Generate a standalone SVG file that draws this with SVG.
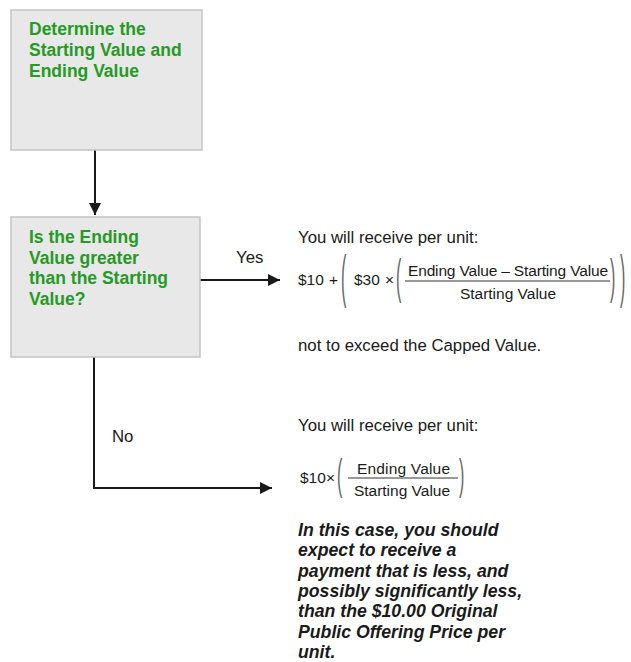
<svg xmlns="http://www.w3.org/2000/svg" width="631" height="662" viewBox="0 0 631 662">
<style>
.box{fill:#e8e8e8;stroke:#c4c4c4;stroke-width:1.5}
.g{font-family:"Liberation Sans",Arial,sans-serif;font-weight:bold;font-size:17.5px;fill:#259a25}
.t{font-family:"Liberation Sans",Arial,sans-serif;font-size:16.8px;fill:#1a1a1a}
.f{font-family:"Liberation Sans",Arial,sans-serif;font-size:15.5px;fill:#1a1a1a}
.p{font-family:"Liberation Sans",Arial,sans-serif;font-size:16px;fill:#666}
.i{font-family:"Liberation Sans",Arial,sans-serif;font-size:17.7px;font-weight:bold;font-style:italic;fill:#1a1a1a}
.c{fill:none;stroke:#1a1a1a;stroke-width:2}
.bar{stroke:#333;stroke-width:1}
</style>
<defs>
<marker id="ah" viewBox="0 0 12 12" refX="12" refY="6" markerWidth="12" markerHeight="12" markerUnits="userSpaceOnUse" orient="auto">
<path d="M0,0 L12,6 L0,12 z" fill="#1a1a1a"/>
</marker>
</defs>
<g id="connectors">
<path class="c" d="M95,150 V215" marker-end="url(#ah)"/>
<path class="c" d="M200,280 H280" marker-end="url(#ah)"/>
<path class="c" d="M94,357 V488 H272" marker-end="url(#ah)"/>
<text class="t" x="236" y="263">Yes</text>
<text class="t" x="112" y="442">No</text>
</g>
<g id="node-determine">
<rect class="box" x="11" y="10" width="191" height="140"/>
<text class="g" x="29" y="35">Determine the</text>
<text class="g" x="29" y="56">Starting Value and</text>
<text class="g" x="29" y="77">Ending Value</text>
</g>
<g id="node-question">
<rect class="box" x="11" y="217" width="189" height="140"/>
<text class="g" x="29" y="243">Is the Ending</text>
<text class="g" x="29" y="263.5">Value greater</text>
<text class="g" x="29" y="284">than the Starting</text>
<text class="g" x="29" y="304.5">Value?</text>
</g>
<g id="node-yes">
<text class="t" x="298" y="243">You will receive per unit:</text>
<text class="f" x="298" y="285">$10</text>
<text class="f" x="329" y="285">+</text>
<text class="p" transform="translate(341,296) scale(1,3.6)">(</text>
<text class="f" x="354" y="285">$30</text>
<text class="f" x="385" y="285">×</text>
<text class="p" transform="translate(396,293) scale(1,3.0)">(</text>
<text class="f" x="408" y="276" textLength="200">Ending Value – Starting Value</text>
<line class="bar" x1="405" y1="281" x2="610" y2="281"/>
<text class="f" x="508" y="299" text-anchor="middle">Starting Value</text>
<text class="p" transform="translate(610,293) scale(1,3.0)">)</text>
<text class="p" transform="translate(620,296) scale(1,3.6)">)</text>
<text class="t" x="298" y="351">not to exceed the Capped Value.</text>
</g>
<g id="node-no">
<text class="t" x="298" y="431">You will receive per unit:</text>
<text class="f" x="300" y="483">$10</text>
<text class="f" x="326" y="483">×</text>
<text class="p" transform="translate(337,489) scale(1,2.7)">(</text>
<text class="f" x="357" y="474" textLength="93">Ending Value</text>
<line class="bar" x1="348" y1="478" x2="458" y2="478"/>
<text class="f" x="402" y="496" text-anchor="middle">Starting Value</text>
<text class="p" transform="translate(459,489) scale(1,2.7)">)</text>
<text class="i" x="298" y="536">In this case, you should</text>
<text class="i" x="298" y="556.3">expect to receive a</text>
<text class="i" x="298" y="576.6">payment that is less, and</text>
<text class="i" x="298" y="596.9">possibly significantly less,</text>
<text class="i" x="298" y="617.2">than the $10.00 Original</text>
<text class="i" x="298" y="637.5">Public Offering Price per</text>
<text class="i" x="298" y="657.8">unit.</text>
</g>
</svg>
